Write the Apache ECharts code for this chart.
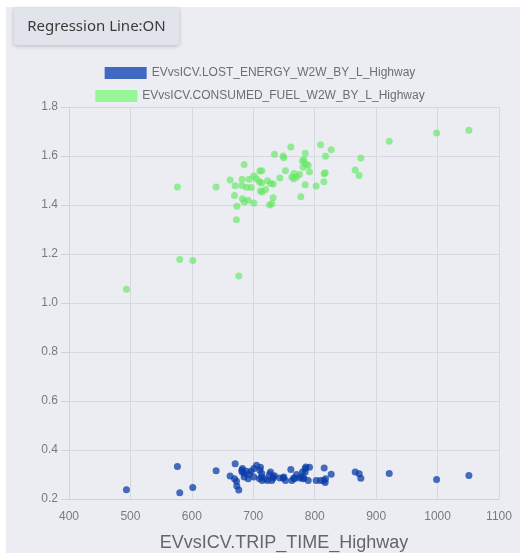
<!DOCTYPE html>
<html>
<head>
<meta charset="utf-8">
<script src="https://cdn.jsdelivr.net/npm/echarts@6/dist/echarts.min.js"></script>
<style>
html,body{margin:0;padding:0;background:#ffffff;}
#chart{width:520px;height:553px;}
</style>
</head>
<body>
<div id="chart"></div>
<script>
// Shared trip time (x) for both series
var tripTime = [493.5,576.5,580.3,601.5,639.5,662.3,669.4,670.5,672.6,673.2,676.4,681.3,681.9,682.4,685.1,685.1,688.9,691.6,693.3,696.5,700.9,700.9,705.2,710.6,713.9,710.1,713.4,711.7,714.5,719.9,723.2,728.0,732.4,732.4,726.4,730.2,734.5,748.6,749.7,743.2,752.4,761.1,762.8,766.6,766.0,770.4,775.2,777.4,784.5,784.5,780.1,782.3,781.2,785.6,789.4,791.5,802.4,809.4,817.6,826.8,815.4,817.0,814.9,865.9,875.1,872.4,921.3,998.4,1051.0];
var consumedFuel = [1.056,1.473,1.178,1.173,1.473,1.502,1.439,1.479,1.340,1.395,1.110,1.480,1.505,1.426,1.565,1.412,1.472,1.419,1.505,1.471,1.408,1.518,1.507,1.539,1.540,1.495,1.490,1.457,1.453,1.463,1.499,1.488,1.486,1.430,1.400,1.405,1.607,1.600,1.593,1.510,1.540,1.637,1.514,1.529,1.507,1.514,1.524,1.434,1.483,1.611,1.580,1.585,1.554,1.566,1.562,1.536,1.478,1.646,1.599,1.626,1.528,1.532,1.495,1.543,1.592,1.520,1.660,1.694,1.705];
var lostEnergy = [0.238,0.333,0.226,0.247,0.315,0.294,0.283,0.344,0.272,0.253,0.237,0.317,0.310,0.324,0.304,0.290,0.313,0.283,0.300,0.313,0.324,0.290,0.338,0.317,0.304,0.283,0.290,0.330,0.276,0.283,0.276,0.310,0.290,0.286,0.300,0.276,0.295,0.286,0.290,0.286,0.276,0.320,0.276,0.283,0.286,0.300,0.286,0.290,0.324,0.310,0.310,0.286,0.283,0.331,0.276,0.330,0.276,0.276,0.283,0.301,0.327,0.267,0.276,0.310,0.285,0.303,0.304,0.280,0.296];
var seriesNames = ['EVvsICV.LOST_ENERGY_W2W_BY_L_Highway','EVvsICV.CONSUMED_FUEL_W2W_BY_L_Highway'];
var xAxisName = 'EVvsICV.TRIP_TIME_Highway';
var buttonLabel = 'Regression Line:ON';

function pairs(xs, ys){ return xs.map(function(x,i){ return [x, ys[i]]; }); }

var chart = echarts.init(document.getElementById('chart'), null, {renderer:'canvas'});
var labelColor = '#7a7a7a';
var font = '"Liberation Sans", Arial, sans-serif';
chart.setOption({
  animation:false,
  textStyle:{fontFamily:font},
  graphic:[
    {type:'rect', z:-10, silent:true, shape:{x:6,y:7,width:514,height:546}, style:{fill:'#ebedf2'}},
    {type:'rect', z:5, shape:{x:14,y:8,width:165,height:37,r:2},
      style:{fill:'#e1e4eb', shadowBlur:4, shadowColor:'rgba(0,0,0,0.22)', shadowOffsetY:1}},
    {type:'text', z:6, x:96.5, y:27, style:{text:buttonLabel, fill:'#3a3a3a', font:'15px "Noto Sans", "Open Sans", sans-serif', align:'center', verticalAlign:'middle'}}
  ],
  legend:[
    {top:62, left:'center', itemWidth:42, itemHeight:12, itemGap:10,
      textStyle:{color:'#6e6e6e', fontSize:12, fontFamily:font},
      data:[{name:seriesNames[0], icon:'rect', itemStyle:{color:'#4168c2', opacity:1, borderWidth:0}}]},
    {top:85, left:'center', itemWidth:42, itemHeight:12, itemGap:10,
      textStyle:{color:'#6e6e6e', fontSize:12, fontFamily:font},
      data:[{name:seriesNames[1], icon:'rect', itemStyle:{color:'#98f598', opacity:1, borderWidth:0}}]}
  ],
  grid:{left:69, right:21, top:107, bottom:54, containLabel:false, outerBoundsMode:'none'},
  xAxis:{
    type:'value', min:400, max:1100, interval:100,
    name:xAxisName, nameLocation:'middle', nameGap:35,
    nameTextStyle:{color:'#666', fontSize:18, fontFamily:font},
    axisLine:{show:true, lineStyle:{color:'#cfd2d8'}},
    axisTick:{show:false},
    axisLabel:{color:labelColor, fontSize:12, margin:12, formatter:function(v){return String(v);}},
    splitLine:{show:true, lineStyle:{color:'#d6d9df'}}
  },
  yAxis:{
    type:'value', min:0.2, max:1.8, interval:0.2,
    axisLine:{show:true, lineStyle:{color:'#cfd2d8'}},
    axisTick:{show:true, length:8, lineStyle:{color:'#cfd2d8'}},
    axisLabel:{color:labelColor, fontSize:12, margin:11, formatter:function(v){return v.toFixed(1);}},
    splitLine:{show:true, lineStyle:{color:'#d6d9df'}}
  },
  series:[
    {name:seriesNames[0], type:'scatter', symbolSize:7, data:pairs(tripTime, lostEnergy),
      itemStyle:{color:'#0b3ea8', opacity:0.75}},
    {name:seriesNames[1], type:'scatter', symbolSize:7, data:pairs(tripTime, consumedFuel),
      itemStyle:{color:'#5ee85e', opacity:0.62}}
  ]
});
</script>
</body>
</html>
